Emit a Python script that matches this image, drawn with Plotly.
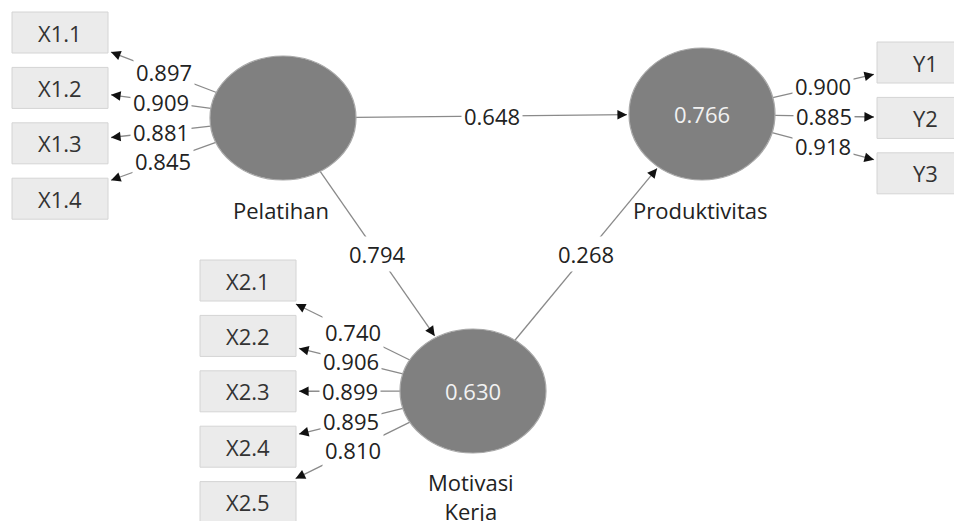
import math
import plotly.graph_objects as go

# ---------------- data ----------------
constructs = ["Pelatihan", "Motivasi Kerja", "Produktivitas"]
r_squared = [None, 0.630, 0.766]

x1_indicators = ["X1.1", "X1.2", "X1.3", "X1.4"]
x1_loadings = [0.897, 0.909, 0.881, 0.845]

x2_indicators = ["X2.1", "X2.2", "X2.3", "X2.4", "X2.5"]
x2_loadings = [0.740, 0.906, 0.899, 0.895, 0.810]

y_indicators = ["Y1", "Y2", "Y3"]
y_loadings = [0.900, 0.885, 0.918]

path_from = ["Pelatihan", "Pelatihan", "Motivasi Kerja"]
path_to = ["Produktivitas", "Motivasi Kerja", "Produktivitas"]
path_coef = [0.648, 0.794, 0.268]

# ---------------- layout (diagram geometry, pixels) ----------------
W, H = 962, 521
PAGE_OFF = 8  # default page body margin
node_pos = {
    "Pelatihan": (283, 118, 73, 62),
    "Motivasi Kerja": (473, 391, 73, 62),
    "Produktivitas": (702, 114, 73, 66),
}
name_offset = {"Pelatihan": 92, "Motivasi Kerja": 92, "Produktivitas": 96}
BOX_W, BOX_H, BOX_STEP = 96, 41, 55.4
columns = [
    ("Pelatihan", x1_indicators, x1_loadings, 12, 12),
    ("Motivasi Kerja", x2_indicators, x2_loadings, 200, 260),
    ("Produktivitas", y_indicators, y_loadings, 877, 42),
]

FONT = "Open Sans"
FS = 22
LINE_COL = "#8a8a8a"
TEXT_COL = "#222222"


def ellipse_edge(cx, cy, rx, ry, tx, ty, gap=0.0):
    dx, dy = tx - cx, ty - cy
    t = 1.0 / math.sqrt((dx / rx) ** 2 + (dy / ry) ** 2)
    L = math.hypot(dx, dy)
    t += gap / L
    return cx + t * dx, cy + t * dy


def box_entry(fx, fy, bx, by, hw, hh):
    dx, dy = bx - fx, by - fy
    k = min(hw / abs(dx) if dx else 1e9, hh / abs(dy) if dy else 1e9)
    return bx - k * dx, by - k * dy


shapes = []
annotations = []


def add_arrow(x0, y0, x1, y1, label):
    shapes.append(dict(type="line", xref="x", yref="y", x0=x0, y0=y0, x1=x1, y1=y1,
                       line=dict(color=LINE_COL, width=1.3), layer="below"))
    L = math.hypot(x1 - x0, y1 - y0)
    ux, uy = (x1 - x0) / L, (y1 - y0) / L
    annotations.append(dict(x=x1, y=y1, ax=x1 - 6 * ux, ay=y1 - 6 * uy, xref="x", yref="y",
                            axref="x", ayref="y", text="", showarrow=True, arrowhead=2,
                            arrowsize=1.2, arrowwidth=1.6, arrowcolor="#111111", standoff=0))
    annotations.append(dict(x=(x0 + x1) / 2, y=(y0 + y1) / 2, xref="x", yref="y",
                            text=label, showarrow=False, bgcolor="white", borderpad=2,
                            font=dict(family=FONT, size=FS, color=TEXT_COL)))


# indicator boxes and loadings
for cname, names, loads, bx0, by0 in columns:
    cx, cy, rx, ry = node_pos[cname]
    for i, (nm, ld) in enumerate(zip(names, loads)):
        top = by0 + i * BOX_STEP
        bxc, byc = bx0 + BOX_W / 2, top + BOX_H / 2
        shapes.append(dict(type="rect", xref="x", yref="y", x0=bx0, x1=bx0 + BOX_W,
                           y0=top, y1=top + BOX_H, fillcolor="#ebebeb",
                           line=dict(color="#d4d4d4", width=1), layer="below"))
        annotations.append(dict(x=bxc, y=byc, xref="x", yref="y", text=nm, showarrow=False,
                                font=dict(family=FONT, size=FS, color="#333333")))
        sx, sy = ellipse_edge(cx, cy, rx, ry, bxc, byc)
        ex, ey = box_entry(cx, cy, bxc, byc, BOX_W / 2 + 3, BOX_H / 2 + 3)
        add_arrow(sx, sy, ex, ey, f"{ld:.3f}")

# structural paths
for a, b, c in zip(path_from, path_to, path_coef):
    ax_, ay_, arx, ary = node_pos[a]
    bx_, by_, brx, bry = node_pos[b]
    sx, sy = ellipse_edge(ax_, ay_, arx, ary, bx_, by_)
    ex, ey = ellipse_edge(bx_, by_, brx, bry, ax_, ay_, gap=2)
    add_arrow(sx, sy, ex, ey, f"{c:.3f}")

# latent variables
for nm, r2 in zip(constructs, r_squared):
    cx, cy, rx, ry = node_pos[nm]
    shapes.append(dict(type="circle", xref="x", yref="y", x0=cx - rx, x1=cx + rx,
                       y0=cy - ry, y1=cy + ry, fillcolor="#808080",
                       line=dict(color="#a8a8a8", width=1.2), layer="above"))
    if r2 is not None:
        annotations.append(dict(x=cx, y=cy, xref="x", yref="y", text=f"{r2:.3f}",
                                showarrow=False, font=dict(family=FONT, size=FS, color="#f2f2f2")))
    two = " " in nm
    annotations.append(dict(x=cx - 2, y=cy + name_offset[nm], xref="x", yref="y",
                            text=nm.replace(" ", "<br>"), showarrow=False,
                            yanchor="top" if two else "middle",
                            yshift=18 if two else 0,
                            font=dict(family=FONT, size=FS, color=TEXT_COL)))

fig = go.Figure()
fig.add_trace(go.Scatter(x=[PAGE_OFF, W], y=[PAGE_OFF, H], mode="markers", marker=dict(opacity=0),
                         hoverinfo="skip", showlegend=False))
fig.update_layout(
    width=W, height=H, margin=dict(l=0, r=0, t=0, b=0),
    paper_bgcolor="white", plot_bgcolor="white",
    xaxis=dict(range=[PAGE_OFF, W + PAGE_OFF], visible=False, fixedrange=True),
    yaxis=dict(range=[H + PAGE_OFF, PAGE_OFF], visible=False, fixedrange=True),
    shapes=shapes, annotations=annotations, showlegend=False,
)
fig.write_html("out.html")
